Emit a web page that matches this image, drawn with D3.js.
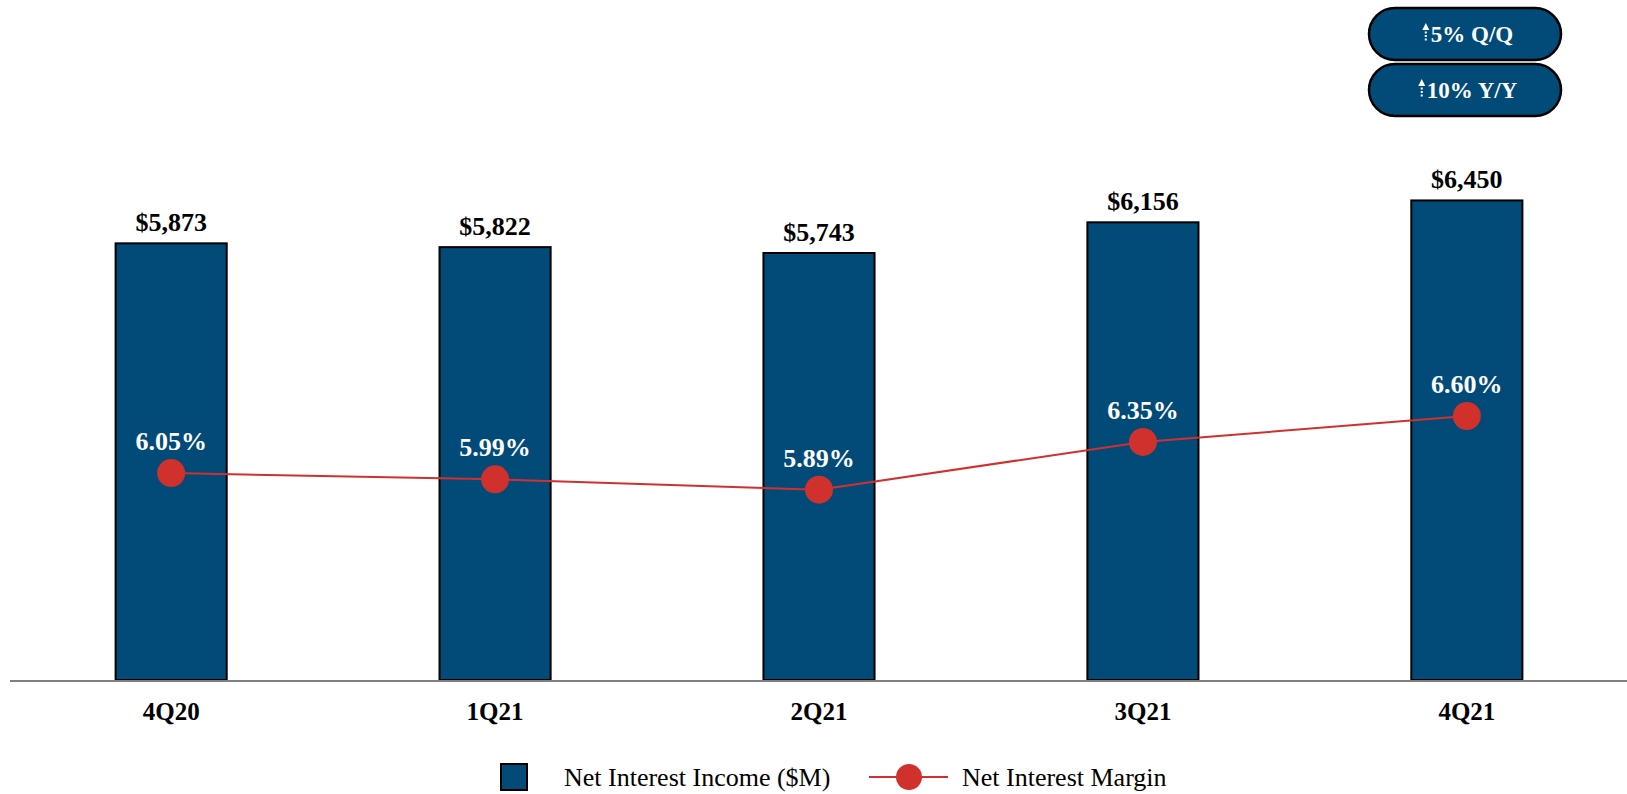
<!DOCTYPE html>
<html>
<head>
<meta charset="utf-8">
<script src="https://cdn.jsdelivr.net/npm/d3@7"></script>
<style>
  html, body { margin: 0; padding: 0; background: #fff; }
  svg { display: block; font-family: "Liberation Serif", "Times New Roman", serif; }
</style>
</head>
<body>
<svg id="chart" width="1627" height="794"></svg>
<script>
// Quarterly net interest income and margin
const quarters = ["4Q20", "1Q21", "2Q21", "3Q21", "4Q21"];
const netInterestIncome = [5873, 5822, 5743, 6156, 6450];   // $M
const netInterestMargin = [6.05, 5.99, 5.89, 6.35, 6.60];   // %
const badgeLabels = ["5% Q/Q", "10% Y/Y"];
const legendLabels = ["Net Interest Income ($M)", "Net Interest Margin"];

const navy = "#024a78";
const red = "#d0312d";

const svg = d3.select("#chart");
const baseY = 680;

const x = d3.scaleBand()
  .domain(quarters)
  .range([10, 1628])
  .paddingInner(0.657)
  .paddingOuter(0.326);

const y = d3.scaleLinear().domain([0, 7000]).range([baseY, baseY - 7000 * 0.07435]);
const y2 = d3.scaleLinear().domain([5.0, 7.0]).range([582.1, 374.5]);

const cx = q => x(q) + x.bandwidth() / 2;

// Bars
svg.append("g").selectAll("rect")
  .data(quarters)
  .join("rect")
  .attr("x", q => x(q))
  .attr("y", (q, i) => y(netInterestIncome[i]))
  .attr("width", x.bandwidth())
  .attr("height", (q, i) => baseY - y(netInterestIncome[i]))
  .attr("fill", navy)
  .attr("stroke", "#000")
  .attr("stroke-width", 2);

// Bar value labels
svg.append("g").selectAll("text")
  .data(quarters)
  .join("text")
  .attr("x", q => cx(q))
  .attr("y", (q, i) => y(netInterestIncome[i]) - 12)
  .attr("text-anchor", "middle")
  .attr("font-size", 26)
  .attr("font-weight", "bold")
  .attr("fill", "#000")
  .text((q, i) => d3.format("$,.0f")(netInterestIncome[i]));

// Baseline axis
svg.append("line")
  .attr("x1", 10).attr("x2", 1627)
  .attr("y1", baseY + 1).attr("y2", baseY + 1)
  .attr("stroke", "#7f7f7f").attr("stroke-width", 2);

// Category labels
const xAxis = d3.axisBottom(x).tickSize(0).tickPadding(0);
const gx = svg.append("g").attr("transform", `translate(0,${baseY})`).call(xAxis);
gx.select(".domain").remove();
gx.selectAll("text")
  .attr("y", 40)
  .attr("dy", null)
  .attr("font-family", "Liberation Serif, Times New Roman, serif")
  .attr("font-size", 25)
  .attr("font-weight", "bold")
  .attr("fill", "#000");

// Margin line
const line = d3.line()
  .x(d => cx(d.q))
  .y(d => y2(d.v));
const marginData = quarters.map((q, i) => ({ q, v: netInterestMargin[i] }));
svg.append("path")
  .datum(marginData)
  .attr("d", line)
  .attr("fill", "none")
  .attr("stroke", red)
  .attr("stroke-width", 2);

svg.append("g").selectAll("circle")
  .data(marginData)
  .join("circle")
  .attr("cx", d => cx(d.q))
  .attr("cy", d => y2(d.v))
  .attr("r", 14)
  .attr("fill", red);

svg.append("g").selectAll("text")
  .data(marginData)
  .join("text")
  .attr("x", d => cx(d.q))
  .attr("y", d => y2(d.v) - 23)
  .attr("text-anchor", "middle")
  .attr("font-size", 26)
  .attr("font-weight", "bold")
  .attr("fill", "#fff")
  .text(d => d3.format(".2f")(d.v) + "%");

// Change badges
const badges = svg.append("g").selectAll("g")
  .data(badgeLabels)
  .join("g")
  .attr("transform", (d, i) => `translate(1369,${8 + i * 56})`);

badges.append("rect")
  .attr("width", 192).attr("height", 52)
  .attr("rx", 26).attr("ry", 26)
  .attr("fill", navy)
  .attr("stroke", "#000")
  .attr("stroke-width", 2.5);

badges.append("text")
  .attr("x", 103)
  .attr("y", 34)
  .attr("text-anchor", "middle")
  .attr("font-size", 23)
  .attr("font-weight", "bold")
  .attr("fill", "#fff")
  .text(d => d);

// dashed up-arrow in front of each badge label
badges.each(function() {
  const g = d3.select(this);
  const bb = g.select("text").node().getBBox();
  const ax = bb.x - 5;
  g.append("line")
    .attr("x1", ax).attr("x2", ax)
    .attr("y1", 20).attr("y2", 34)
    .attr("stroke", "#fff").attr("stroke-width", 2)
    .attr("stroke-dasharray", "2,1.5");
  g.append("path")
    .attr("d", `M${ax - 3.5},${22} L${ax},${15} L${ax + 3.5},${22} Z`)
    .attr("fill", "#fff");
});

// Legend
const legend = svg.append("g");
legend.append("rect")
  .attr("x", 501).attr("y", 764)
  .attr("width", 26).attr("height", 26)
  .attr("fill", navy).attr("stroke", "#000").attr("stroke-width", 2);
legend.append("text")
  .attr("x", 564).attr("y", 786)
  .attr("font-size", 26).attr("fill", "#000")
  .text(legendLabels[0]);
legend.append("line")
  .attr("x1", 869).attr("x2", 948)
  .attr("y1", 777).attr("y2", 777)
  .attr("stroke", red).attr("stroke-width", 2);
legend.append("circle")
  .attr("cx", 909).attr("cy", 777).attr("r", 13)
  .attr("fill", red);
legend.append("text")
  .attr("x", 962).attr("y", 786)
  .attr("font-size", 26).attr("fill", "#000")
  .text(legendLabels[1]);
</script>
</body>
</html>
